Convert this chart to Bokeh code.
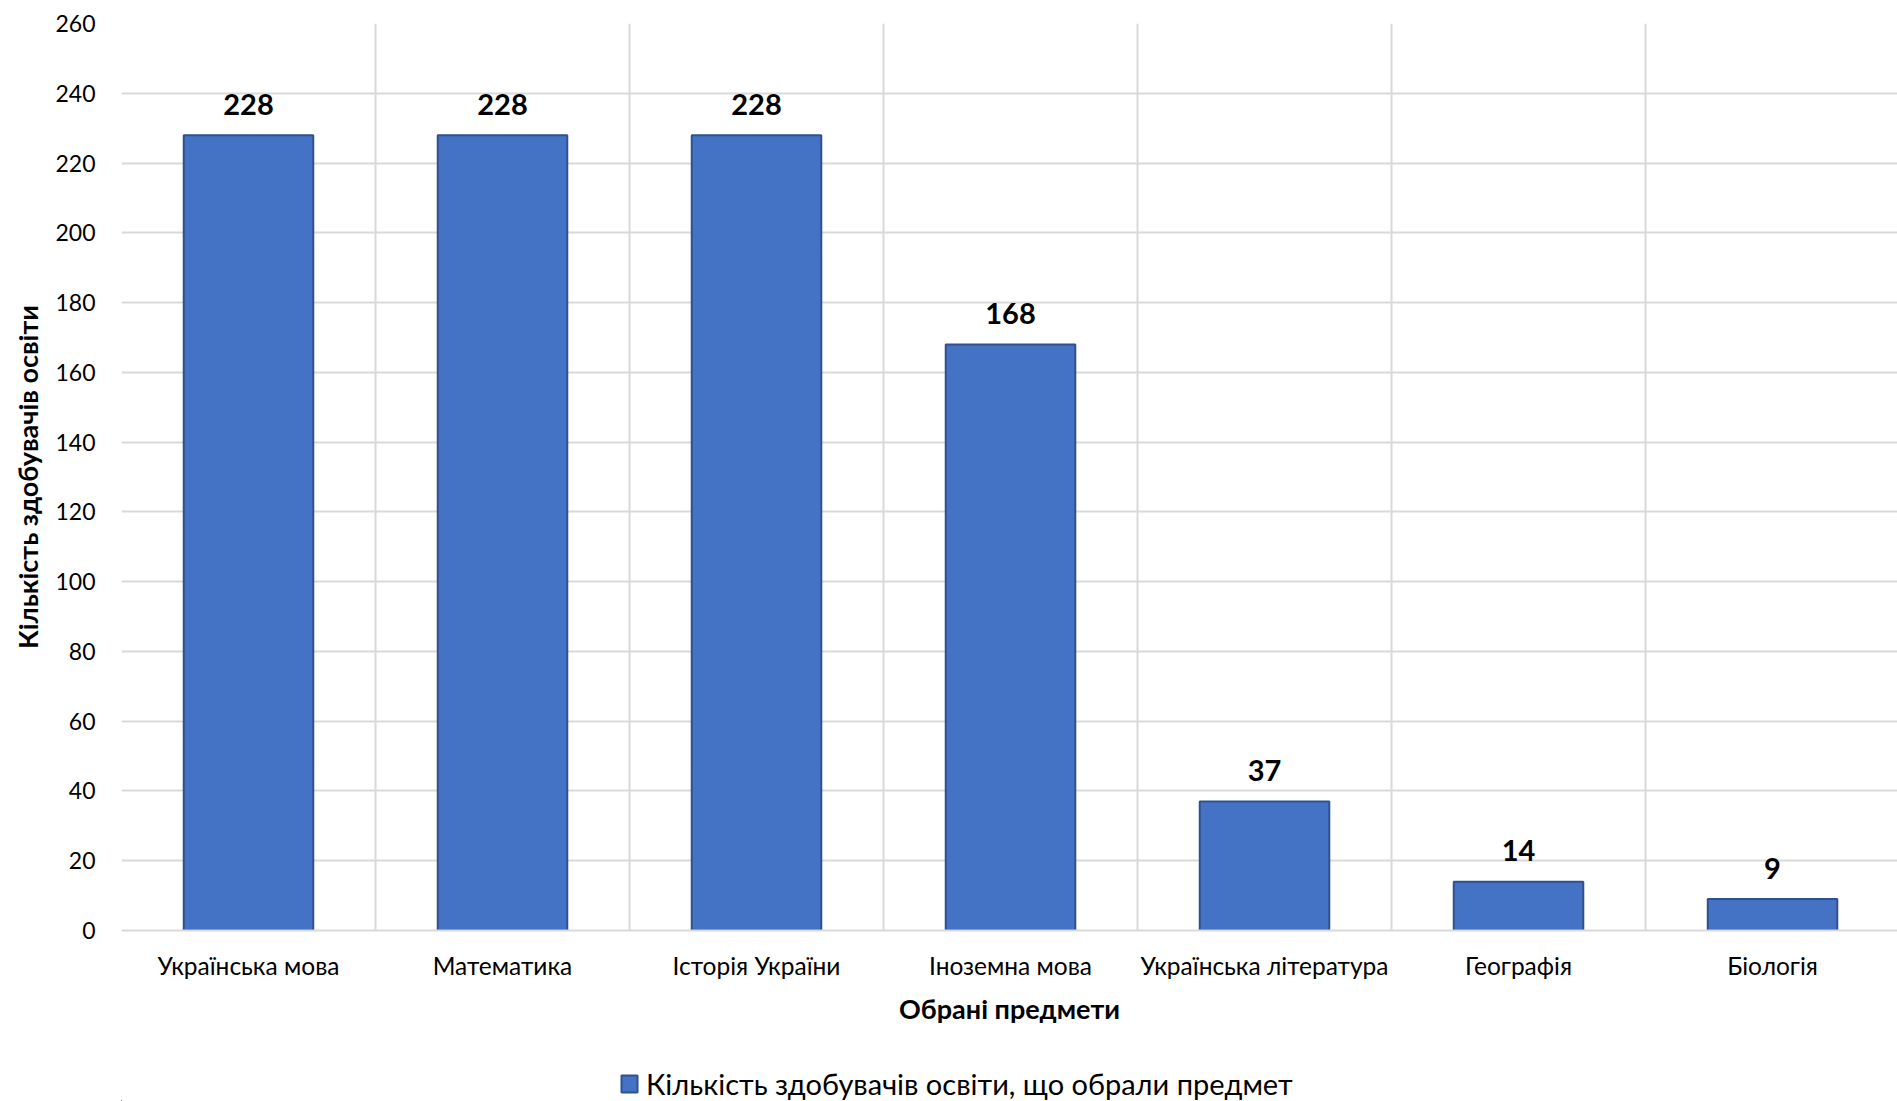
import numpy as np
from bokeh.plotting import figure
from bokeh.layouts import column
from bokeh.models import ColumnDataSource, Range1d, FixedTicker, Legend, LegendItem
from bokeh.core.properties import value
from bokeh.embed import file_html
from bokeh.resources import INLINE

subjects = ["Українська мова", "Математика", "Історія України", "Іноземна мова",
            "Українська література", "Географія", "Біологія"]
counts = [228, 228, 228, 168, 37, 14, 9]
y_ticks = list(range(0, 261, 20))
series_name = "Кількість здобувачів освіти, що обрали предмет"
x_title = "Обрані предмети"
y_title = "Кількість здобувачів освіти"

FONT = "Lato"
BAR_FILL = "#4472C4"
BAR_LINE = "#2F528F"
pos = [i + 0.5 for i in range(len(subjects))]
src = ColumnDataSource(dict(x=pos, top=counts, label=[str(c) for c in counts], name=subjects))

p = figure(width=1897, height=1040, output_backend="svg", toolbar_location=None,
           x_range=Range1d(0, 6.992), y_range=Range1d(0, 260),
           min_border_left=121, min_border_right=0, min_border_top=23, min_border_bottom=110)
p.outline_line_color = None
p.background_fill_color = "white"

bars = p.vbar(x="x", top="top", width=0.51, source=src, fill_color=BAR_FILL,
              line_color=BAR_LINE, line_width=2)

p.text(x="x", y="top", text="label", source=src, text_align="center",
       text_baseline="alphabetic", y_offset=-31, text_font=value(FONT),
       text_font_style="bold", text_font_size="29px", text_color="#000000")

# axes
p.xaxis.ticker = FixedTicker(ticks=pos)
p.xaxis.major_label_overrides = {x: s for x, s in zip(pos, subjects)}
p.xaxis.major_label_text_font = FONT
p.xaxis.major_label_text_font_size = "24.5px"
p.xaxis.major_label_text_color = "#000000"
p.xaxis.major_tick_line_color = None
p.xaxis.minor_tick_line_color = None
p.xaxis.axis_line_color = "#D9D9D9"
p.xaxis.axis_line_width = 2
p.xaxis.major_label_standoff = 14
p.xaxis.axis_label = x_title
p.xaxis.axis_label_text_font = FONT
p.xaxis.axis_label_text_font_style = "bold"
p.xaxis.axis_label_text_font_size = "27px"
p.xaxis.axis_label_text_color = "#000000"
p.xaxis.axis_label_standoff = 9

p.yaxis.ticker = FixedTicker(ticks=y_ticks)
p.yaxis.major_label_text_font = FONT
p.yaxis.major_label_text_font_size = "23px"
p.yaxis.major_label_text_color = "#000000"
p.yaxis.major_tick_line_color = None
p.yaxis.minor_tick_line_color = None
p.yaxis.axis_line_color = None
p.yaxis.major_label_standoff = 20
p.yaxis.axis_label = y_title
p.yaxis.axis_label_text_font = FONT
p.yaxis.axis_label_text_font_style = "bold"
p.yaxis.axis_label_text_font_size = "27px"
p.yaxis.axis_label_text_color = "#000000"
p.yaxis.axis_label_standoff = 8

p.xgrid.ticker = FixedTicker(ticks=list(range(len(subjects) + 1)))
p.xgrid.grid_line_color = "#D9D9D9"
p.xgrid.grid_line_width = 2
p.ygrid.grid_line_color = "#D9D9D9"
p.ygrid.grid_line_width = 2

# legend strip below the chart (same series, shown only as a legend key)
lf = figure(width=1897, height=61, output_backend="svg", toolbar_location=None,
            x_range=Range1d(1000, 1001), y_range=Range1d(1000, 1001),
            x_axis_location=None, y_axis_location=None,
            min_border_left=0, min_border_right=0, min_border_top=0, min_border_bottom=0)
lf.outline_line_color = None
lf.grid.visible = False
key = lf.vbar(x="x", top="top", width=0.51, source=src, fill_color=BAR_FILL,
              line_color=BAR_LINE, line_width=2)
legend = Legend(items=[LegendItem(label=series_name, renderers=[key])],
                location=(498, 0), orientation="horizontal",
                label_text_font=FONT, label_text_font_size="29px", label_text_color="#000000",
                glyph_width=20, glyph_height=21, label_standoff=7, padding=0, margin=0,
                border_line_color=None, background_fill_alpha=0)
lf.add_layout(legend, "center")

page = column(p, lf, spacing=0)
open("out.html", "w").write(file_html(page, INLINE))
